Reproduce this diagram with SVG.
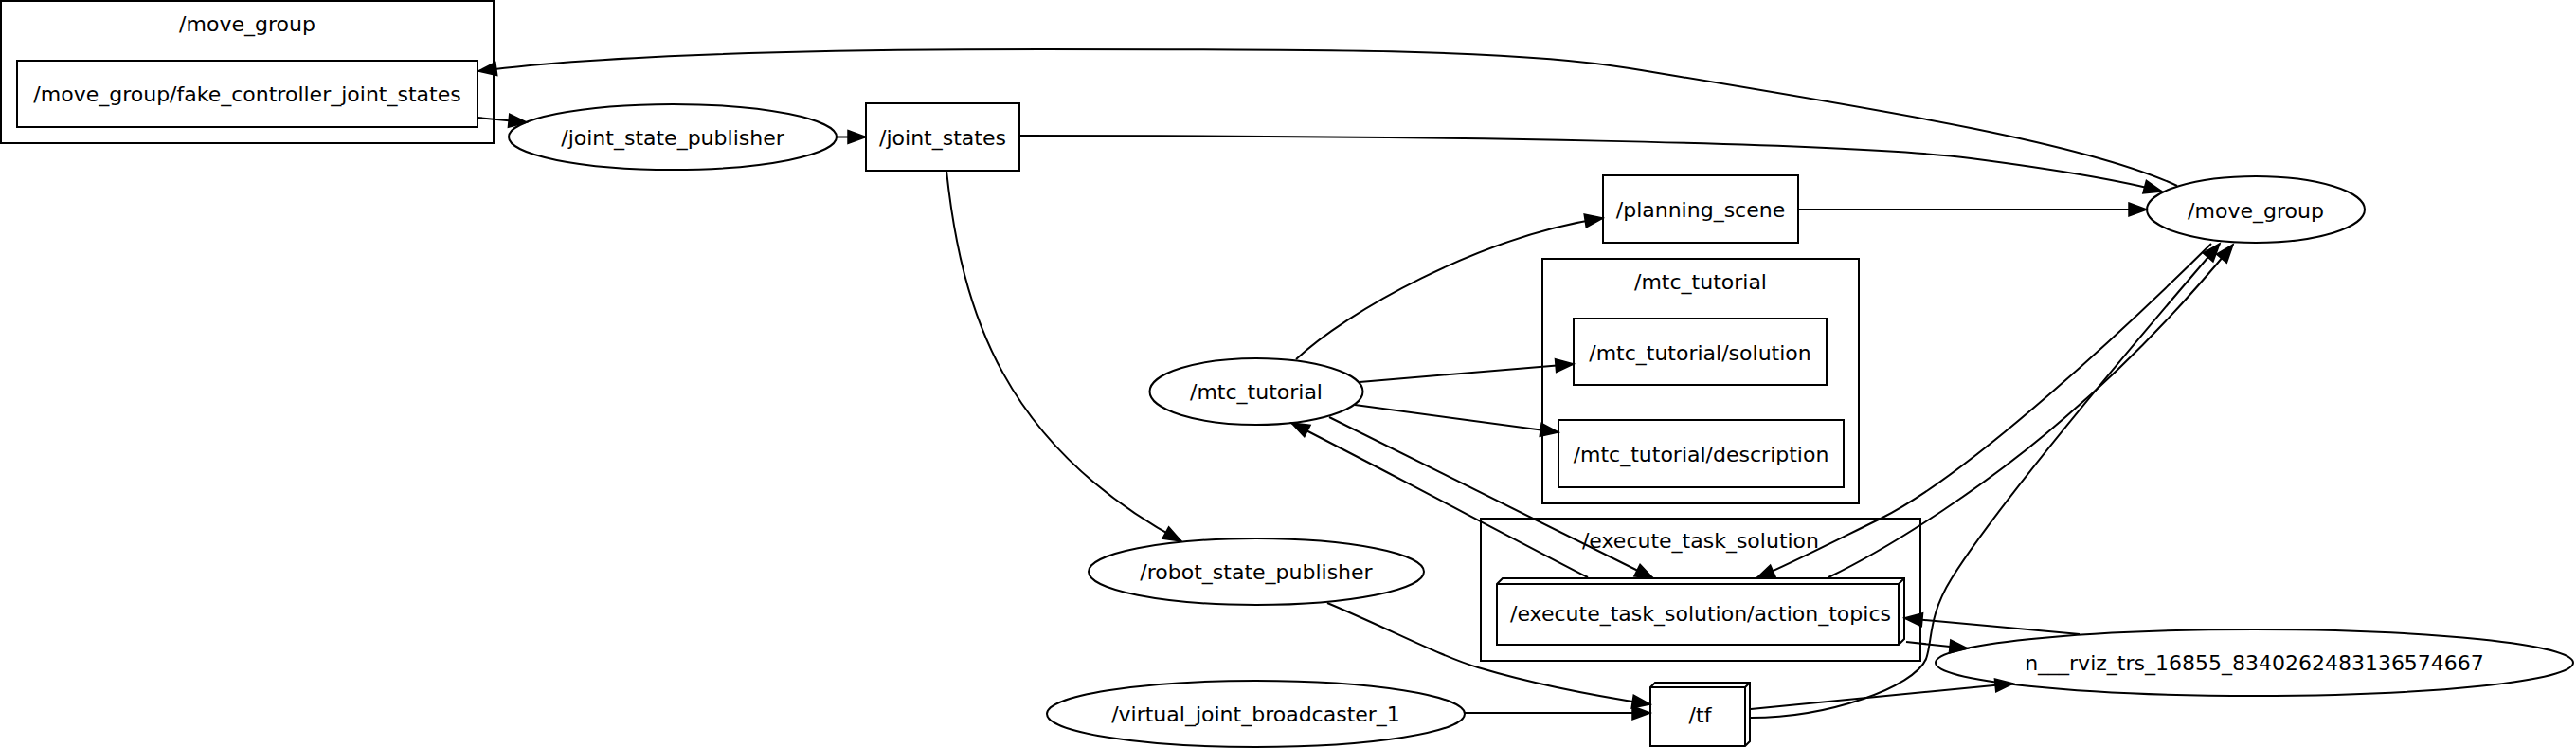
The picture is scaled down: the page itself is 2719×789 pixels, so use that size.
<svg xmlns="http://www.w3.org/2000/svg" width="2719" height="789" viewBox="0 0 2719 789">
<style>
.s{fill:none;stroke:#000;stroke-width:2}
.t{font-family:"DejaVu Sans",sans-serif;font-size:22px;text-anchor:middle;fill:#000}
.e{fill:none;stroke:#000;stroke-width:2;marker-end:url(#ah)}
.l{fill:none;stroke:#000;stroke-width:2}
</style>
<defs>
<marker id="ah" markerWidth="22" markerHeight="18" refX="19" refY="7" orient="auto" markerUnits="userSpaceOnUse" viewBox="-1 -2 22 18" overflow="visible">
<path d="M0,0 L19,7 L0,14 z" fill="#000" stroke="#000" stroke-width="1.5"/>
</marker>
</defs>
<rect x="0" y="0" width="2719" height="789" fill="#fff"/>

<g id="cluster_move_group">
<rect class="s" x="1" y="1" width="520" height="150"/>
<text class="t" x="261" y="33">/move_group</text>
</g>
<g id="fake_controller_joint_states">
<rect class="s" x="18" y="64" width="486" height="70"/>
<text class="t" x="261" y="107">/move_group/fake_controller_joint_states</text>
</g>
<g id="joint_state_publisher">
<ellipse class="s" cx="710" cy="144.5" rx="173" ry="34.5"/>
<text class="t" x="710" y="153">/joint_state_publisher</text>
</g>
<g id="joint_states">
<rect class="s" x="914" y="109" width="162" height="71"/>
<text class="t" x="995" y="153">/joint_states</text>
</g>
<g id="planning_scene">
<rect class="s" x="1692" y="185" width="206" height="71"/>
<text class="t" x="1795" y="229">/planning_scene</text>
</g>
<g id="move_group">
<ellipse class="s" cx="2381" cy="221" rx="115" ry="35"/>
<text class="t" x="2381" y="229.5">/move_group</text>
</g>
<g id="cluster_mtc_tutorial">
<rect class="s" x="1628" y="273" width="334" height="258"/>
<text class="t" x="1795" y="305">/mtc_tutorial</text>
</g>
<g id="mtc_tutorial_solution">
<rect class="s" x="1661" y="336" width="267" height="70"/>
<text class="t" x="1794.5" y="379.5">/mtc_tutorial/solution</text>
</g>
<g id="mtc_tutorial_description">
<rect class="s" x="1645" y="443" width="301" height="71"/>
<text class="t" x="1795.5" y="487">/mtc_tutorial/description</text>
</g>
<g id="mtc_tutorial">
<ellipse class="s" cx="1326" cy="413" rx="112.5" ry="35"/>
<text class="t" x="1326" y="421">/mtc_tutorial</text>
</g>
<g id="cluster_execute_task_solution">
<rect class="s" x="1563" y="547" width="464" height="150"/>
<text class="t" x="1795" y="578">/execute_task_solution</text>
</g>
<g id="execute_task_solution_action_topics">
<path class="s" d="M1580,616 L1586,610 L2010,610 L2010,674 L2004,680 L1580,680 Z M1580,616 L2004,616 L2004,680 M2004,616 L2010,610"/>
<text class="t" x="1795" y="655">/execute_task_solution/action_topics</text>
</g>
<g id="robot_state_publisher">
<ellipse class="s" cx="1326" cy="603" rx="177" ry="35"/>
<text class="t" x="1326" y="611">/robot_state_publisher</text>
</g>
<g id="virtual_joint_broadcaster_1">
<ellipse class="s" cx="1325.5" cy="753" rx="220.5" ry="35"/>
<text class="t" x="1325.5" y="761">/virtual_joint_broadcaster_1</text>
</g>
<g id="tf">
<path class="s" d="M1742,725 L1747,720 L1847,720 L1847,782 L1842,787 L1742,787 Z M1742,725 L1842,725 L1842,787 M1842,725 L1847,720"/>
<text class="t" x="1794.5" y="762">/tf</text>
</g>
<g id="rviz">
<ellipse class="s" cx="2379.5" cy="699" rx="336.5" ry="35"/>
<text class="t" x="2379.5" y="707">n___rviz_trs_16855_8340262483136574667</text>
</g>

<g id="connectors">
<path class="e" d="M2298,196 C2200,150 1980,115 1720,72 C1600,52 1400,52 1100,52 C800,52 620,60 505,75"/>
<path class="e" d="M504,124 L556,129"/>
<path class="e" d="M883,144.5 L914,144.5"/>
<path class="e" d="M1076,143 C1500,143 1950,150 2080,167 C2160,177.5 2230,188 2282,202"/>
<path class="e" d="M999,180 C1015,330 1060,470 1247,571"/>
<path class="e" d="M1898,221 L2266,221"/>
<path class="e" d="M1368,379 C1420,330 1560,250 1692,230"/>
<path class="e" d="M1435,403 L1661,384"/>
<path class="e" d="M1430,427 L1645,456"/>
<path class="e" d="M1403,440 L1745,610"/>
<path class="e" d="M1676,609 C1600,570 1450,490 1363,446"/>
<path class="e" d="M2334,257 C2250,340 2080,500 1985,547 C1940,569 1900,590 1854,610"/>
<path class="e" d="M1930,609 C2000,575 2100,510 2180,440 C2250,380 2310,315 2357,258"/>
<path class="e" d="M1848,757 C1930,757 2020,725 2033,695 C2040,675 2035,650 2060,610 C2110,530 2250,365 2343,257"/>
<path class="e" d="M1401,636 C1470,665 1520,692 1560,704 C1620,722 1690,735 1742,743"/>
<path class="e" d="M1546,752 L1742,752"/>
<path class="e" d="M1848,748 L2125,721"/>
<path class="e" d="M2195,669 L2010,652"/>
<path class="e" d="M2012,677 L2077,684"/>
</g>
</svg>
